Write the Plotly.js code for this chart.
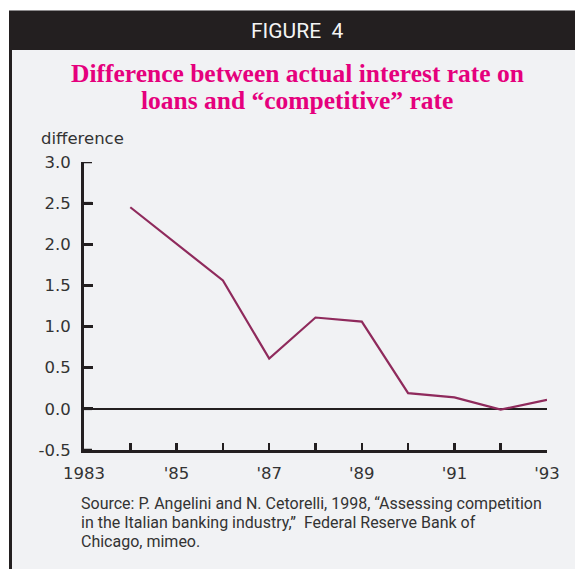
<!DOCTYPE html>
<html>
<head>
<meta charset="utf-8">
<script src="https://cdn.plot.ly/plotly-3.0.1.min.js"></script>
<style>html,body{margin:0;padding:0;background:#fff;}#chart{width:575px;height:569px;}</style>
</head>
<body>
<div id="chart"></div>
<script>
// Data
const years = [1984, 1985, 1986, 1987, 1988, 1989, 1990, 1991, 1992, 1993];
const difference = [2.45, 2.01, 1.56, 0.61, 1.11, 1.06, 0.19, 0.14, -0.01, 0.11];
const xTickVals = [1983, 1984, 1985, 1986, 1987, 1988, 1989, 1990, 1991, 1992, 1993];
const xTickText = ['1983', '', "'85", '', "'87", '', "'89", '', "'91", '', "'93"];
const yTickVals = [-0.5, 0, 0.5, 1, 1.5, 2, 2.5, 3];
const yTickText = ['-0.5', '0.0', '0.5', '1.0', '1.5', '2.0', '2.5', '3.0'];
const titleLines = ['Difference between actual interest rate on', 'loans and “competitive” rate'];
const sourceLines = ['Source: P. Angelini and N. Cetorelli, 1998, “Assessing competition',
                     'in the Italian banking industry,”  Federal Reserve Bank of',
                     'Chicago, mimeo.'];

const W = 575, H = 569;
const M = {l: 84, r: 28, t: 162, b: 119};
const pw = W - M.l - M.r, ph = H - M.t - M.b;
const px = x => (x - M.l) / pw;
const py = y => (H - M.b - y) / ph;

const gray = '#f1f2f4';
const ink = '#231f20';
const tickFont = {family: '"DejaVu Sans", sans-serif', size: 16.5, color: '#333'};

const trace = {
  x: years, y: difference, type: 'scatter', mode: 'lines',
  line: {color: '#8f2a5c', width: 2.2}, hoverinfo: 'skip', showlegend: false
};

const annotations = [
  {xref: 'paper', yref: 'paper', x: px(297), y: py(31), xanchor: 'center', yanchor: 'middle', showarrow: false,
   text: 'FIGURE&nbsp;&nbsp;4', font: {family: 'Roboto, "Liberation Sans", sans-serif', size: 21, color: '#f4f4f4'}},
  {xref: 'paper', yref: 'paper', x: px(39), y: py(138), xanchor: 'left', yanchor: 'middle', showarrow: false,
   text: 'difference', font: tickFont}
];
titleLines.forEach((t, i) => annotations.push({
  xref: 'paper', yref: 'paper', x: px(297), y: py(73 + i * 27), xanchor: 'center', yanchor: 'middle', showarrow: false,
  text: '<b>' + t + '</b>', font: {family: '"Liberation Serif", "Times New Roman", serif', size: 25.5, color: '#e5007d'}
}));
sourceLines.forEach((t, i) => annotations.push({
  xref: 'paper', yref: 'paper', x: px(79), y: py(503 + i * 19), xanchor: 'left', yanchor: 'middle', showarrow: false,
  text: t, font: {family: 'Roboto, "Liberation Sans", sans-serif', size: 16, color: '#333'}
}));

const shapes = [
  {type: 'rect', xref: 'paper', yref: 'paper', x0: px(0), x1: px(W), y0: py(0), y1: py(10.5), fillcolor: '#fff', line: {width: 0}, layer: 'below'},
  {type: 'rect', xref: 'paper', yref: 'paper', x0: px(0), x1: px(9), y0: py(0), y1: py(H), fillcolor: '#fff', line: {width: 0}, layer: 'below'},
  {type: 'rect', xref: 'paper', yref: 'paper', x0: px(9), x1: px(W), y0: py(10.5), y1: py(50), fillcolor: ink, line: {width: 0}, layer: 'below'},
  {type: 'rect', xref: 'paper', yref: 'paper', x0: px(9), x1: px(12), y0: py(50), y1: py(H), fillcolor: ink, line: {width: 0}, layer: 'below'}
];
// inward y tick marks, placed on the y scale
yTickVals.forEach(v => shapes.push({
  type: 'line', xref: 'paper', yref: 'y', x0: 0, x1: 8 / pw, y0: v, y1: v,
  line: {color: ink, width: 2.5}
}));

const layout = {
  width: W, height: H,
  margin: M,
  paper_bgcolor: gray,
  plot_bgcolor: 'rgba(0,0,0,0)',
  font: {family: '"DejaVu Sans", sans-serif', color: '#333'},
  xaxis: {
    range: [1983, 1993], tickmode: 'array', tickvals: xTickVals, ticktext: xTickText,
    ticks: 'inside', ticklen: 7, tickwidth: 2.5, tickcolor: ink, ticklabelstandoff: 6,
    showline: true, linecolor: ink, linewidth: 3, showgrid: false, zeroline: false,
    tickfont: tickFont, fixedrange: true
  },
  yaxis: {
    range: [-0.5, 3.0], tickmode: 'array', tickvals: yTickVals, ticktext: yTickText,
    ticks: 'inside', ticklen: 9, tickwidth: 3, tickcolor: ink, ticklabelstandoff: 7,
    showline: true, linecolor: ink, linewidth: 3, showgrid: false,
    zeroline: true, zerolinecolor: ink, zerolinewidth: 2.5,
    tickfont: tickFont, fixedrange: true
  },
  shapes: shapes,
  annotations: annotations
};

Plotly.newPlot('chart', [trace], layout, {staticPlot: true, displayModeBar: false});
</script>
</body>
</html>
